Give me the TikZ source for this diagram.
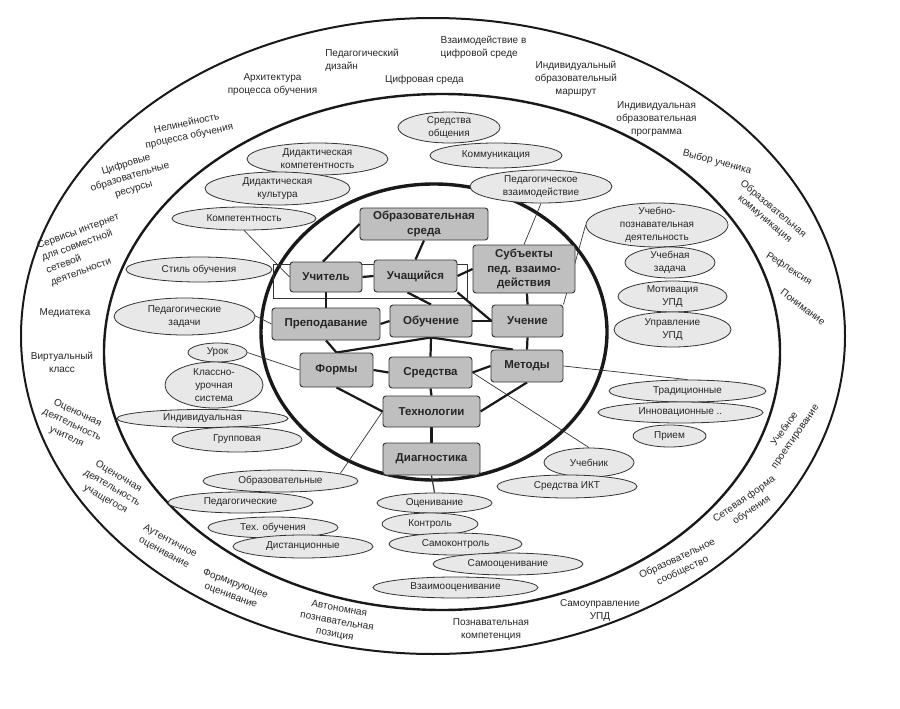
\documentclass[tikz,border=0pt]{standalone}
\usepackage{fontspec}
\setmainfont{Liberation Sans}
\usetikzlibrary{shapes.geometric,calc}
\pgfdeclarelayer{bg}
\pgfsetlayers{bg,main}
\newcommand{\myoval}[6]{\node[oval, minimum width=#4pt, minimum height=#5pt, label={[lbl]center:{#6}}] (#1) at (#2,#3) {};}
\newcommand{\mybox}[6]{\node[gbox, minimum width=#4pt, minimum height=#5pt] (#1) at (#2,#3) {#6};}
\begin{document}
\begin{tikzpicture}[x=1pt,y=-1pt,
  gbox/.style={draw=black!80, fill=black!25, rounded corners=3pt, line width=0.9pt, inner sep=0pt, align=center, font=\fontsize{11.5}{14.5}\selectfont\bfseries, text=black!85},
  oval/.style={ellipse, draw=black!80, fill=black!9, line width=0.8pt, inner sep=0pt},
  lbl/.style={font=\fontsize{10}{13}\selectfont, align=center, text=black!85, inner sep=0pt},
  thinln/.style={draw=black!80, line width=0.7pt},
  thickln/.style={draw=black!90, line width=2.2pt},
]
\useasboundingbox (0,0) rectangle (900,709);

% ---------- boxes ----------
\mybox{sreda}{424}{224}{128}{32}{Образовательная\\среда}
\mybox{uchitel}{326}{277}{72}{30}{Учитель}
\mybox{uchash}{415.5}{276}{83}{32}{Учащийся}
\mybox{subj}{524}{269}{102}{48}{Субъекты\\пед. взаимо-\\действия}
\mybox{prepod}{326}{324}{108}{32}{Преподавание}
\mybox{obuch}{431}{321}{82}{32}{Обучение}
\mybox{uchen}{527.5}{321}{71}{32}{Учение}
\mybox{formy}{336.5}{370}{73}{34}{Формы}
\mybox{sredstva}{430.5}{372.5}{83}{31}{Средства}
\mybox{metody}{527}{366}{72}{32}{Методы}
\mybox{tehno}{431.5}{411.5}{97}{31}{Технологии}
\mybox{diagn}{431.5}{459}{97}{32}{Диагностика}

% ---------- ovals ----------
\myoval{sobsh}{449}{127.5}{102}{31}{Средства\\общения}
\myoval{komm}{496}{155.5}{132}{25}{Коммуникация}
\myoval{pedvz}{541}{186.5}{142}{33}{Педагогическое\\взаимодействие}
\myoval{didk}{317.5}{159}{141}{32}{Дидактическая\\компетентность}
\myoval{didc}{277.5}{188.5}{145}{33}{Дидактическая\\культура}
\myoval{komp}{244}{218.5}{144}{23}{Компетентность}
\myoval{stil}{199}{269.5}{146}{25}{Стиль обучения}
\myoval{pedz}{184.5}{316.5}{141}{37}{Педагогические\\задачи}
\myoval{urok}{217.5}{352.5}{59}{19}{Урок}
\myoval{klass}{214}{385}{98}{46}{Классно-\\урочная\\система}
\myoval{indiv}{202.5}{418.5}{171}{18}{Индивидуальная}
\myoval{grup}{237}{439.5}{130}{25}{Групповая}
\myoval{obrazov}{280.5}{481}{155}{22}{Образовательные}
\myoval{pedag}{240.5}{502.5}{145}{21}{Педагогические}
\myoval{teh}{273}{527.5}{130}{21}{Тех. обучения}
\myoval{dist}{303}{546.5}{140}{23}{Дистанционные}
\myoval{ocen}{434.5}{503}{115}{20}{Оценивание}
\myoval{kontr}{430}{524}{96}{22}{Контроль}
\myoval{samok}{455.5}{544}{133}{22}{Самоконтроль}
\myoval{samoo}{508}{564}{150}{22}{Самооценивание}
\myoval{vzaim}{455.5}{587.5}{165}{21}{Взаимооценивание}
\myoval{ucheb}{589}{462.5}{90}{29}{Учебник}
\myoval{ikt}{567}{486.5}{140}{23}{Средства ИКТ}
\myoval{upd}{657}{225}{142}{44}{Учебно-\\познавательная\\деятельность}
\myoval{uzad}{670}{262.5}{90}{31}{Учебная\\задача}
\myoval{motiv}{672.5}{296.5}{109}{31}{Мотивация\\УПД}
\myoval{uprav}{672.5}{329.5}{117}{35}{Управление\\УПД}
\myoval{trad}{687.5}{391}{157}{22}{Традиционные}
\myoval{innov}{680.5}{412.5}{165}{21}{Инновационные ..}
\myoval{priem}{669.5}{436}{73}{22}{Прием}

% ---------- ring texts ----------
\node[lbl, align=left] (tpd) at (362,60) {Педагогический\\дизайн};
\node[lbl, align=left] (tvz) at (483.5,47.5) {Взаимодействие в\\цифровой среде};
\node[lbl] (tarh) at (272.5,84.5) {Архитектура\\процесса обучения};
\node[lbl] (tcs) at (424.5,80) {Цифровая среда};
\node[lbl] (tiom) at (576,79) {Индивидуальный\\образовательный\\маршрут};
\node[lbl] (tiop) at (656.5,119) {Индивидуальная\\образовательная\\программа};
\node[lbl, rotate=-15] (tvyb) at (717,162) {Выбор ученика};
\node[lbl, rotate=-40] (tobk) at (769,214) {Образовательная\\коммуникация};
\node[lbl, rotate=-32] (tref) at (789,269) {Рефлексия};
\node[lbl, rotate=-37] (tpon) at (803,307) {Понимание};
\node[lbl, rotate=55] (tuchp) at (790,433) {Учебное\\проектирование};
\node[lbl, rotate=35] (tset) at (748,505) {Сетевая форма\\обучения};
\node[lbl, rotate=25] (tobs) at (680,565) {Образовательное\\сообщество};
\node[lbl] (tsam) at (600,610) {Самоуправление\\УПД};
\node[lbl] (tpk) at (491,630) {Познавательная\\компетенция};
\node[lbl, rotate=-10] (tavt) at (337,622) {Автономная\\познавательная\\позиция};
\node[lbl, rotate=-20] (tform) at (233,590) {Формирующее\\оценивание};
\node[lbl, rotate=-28] (taut) at (167,547) {Аутентичное\\оценивание};
\node[lbl, rotate=-30] (tocu) at (112,488) {Оценочная\\деятельность\\учащегося};
\node[lbl, rotate=-25] (tocuch) at (72,425) {Оценочная\\деятельность\\учителя};
\node[lbl] (tvirt) at (62,362) {Виртуальный\\класс};
\node[lbl] (tmed) at (65,313) {Медиатека};
\node[lbl, rotate=20, align=left] (tserv) at (85,250) {Сервисы интернет\\для совместной\\сетевой\\деятельности};
\node[lbl, rotate=17] (tcor) at (130,177) {Цифровые\\образовательные\\ресурсы};
\node[lbl, rotate=12] (tnel) at (188,130) {Нелинейность\\процесса обучения};

% ---------- background layer: rings and connectors ----------
\begin{pgfonlayer}{bg}
\fill[white] (0,0) rectangle (900,709);
\draw[black!90, line width=2pt] (433,336) ellipse [x radius=412, y radius=318];
\draw[black!90, line width=2.4pt] (442,352) ellipse [x radius=338, y radius=258];
\draw[black!90, line width=3.4pt] (434,332) ellipse [x radius=173, y radius=148];

% thin frame around teacher / learner
\draw[thinln] (273,264) rectangle (467,298);

% thin connectors
\draw[thinln] (komp.south) -- (uchitel.west);
\draw[thinln] (pedz.20) -- (prepod.west);
\draw[thinln] (urok.east) -- (formy.west);
\draw[thinln] (obrazov.7) -- (tehno.west);
\draw[thinln] (sredstva.east) -- (ucheb.north);
\draw[thinln] (metody.east) -- (trad.north);
\draw[thinln] (pedvz.south) -- (subj.north);
\draw[thinln] (upd.west) -- (uchen.north east);
\draw[thinln, line width=1.2pt] (diagn.south) -- (ocen.north);

% thick connectors
\draw[thickln] (sreda.west) -- ([xshift=-3pt]uchitel.north);
\draw[thickln] (sreda.south) -- (uchash.north);
\draw[thickln] (uchitel.east) -- (uchash.west);
\draw[thickln] (uchash.east) -- (subj.west);
\draw[thickln] (uchitel.south) -- (prepod.north);
\draw[thickln] ([xshift=-8pt]uchash.south) -- (obuch.north);
\draw[thickln] (uchash.south east) -- (uchen.west);
\draw[thickln] ([xshift=3pt]subj.south) -- (uchen.north);
\draw[thickln] (prepod.east) -- (obuch.west);
\draw[thickln] (obuch.east) -- (uchen.west);
\draw[thickln] (obuch.south) -- (formy.north);
\draw[thickln] (obuch.south) -- ([xshift=-14pt]metody.north);
\draw[thickln] (obuch.south) -- (sredstva.north);
\draw[thickln] (prepod.south) -- (formy.north);
\draw[thickln] (uchen.south) -- (metody.north);
\draw[thickln] (formy.east) -- (sredstva.west);
\draw[thickln] (sredstva.east) -- (metody.west);
\draw[thickln] (formy.south) -- (tehno.west);
\draw[thickln] (sredstva.south) -- (tehno.north);
\draw[thickln] (metody.south) -- (tehno.east);
\draw[thickln] (tehno.south) -- (diagn.north);
\end{pgfonlayer}
\end{tikzpicture}
\end{document}
